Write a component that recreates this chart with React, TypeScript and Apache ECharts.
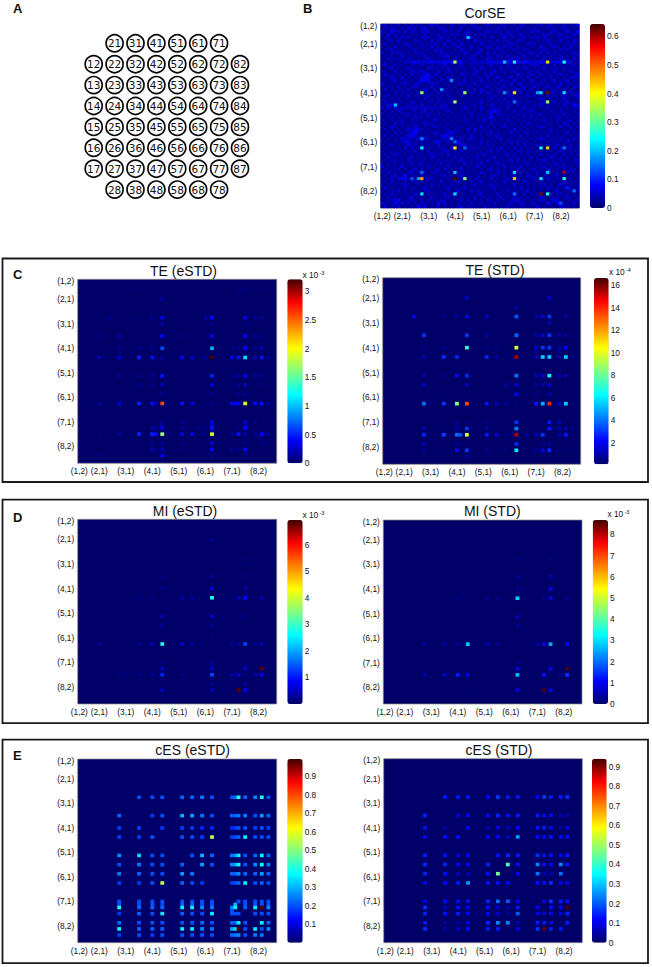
import React, { useEffect, useRef } from "react";
import * as echarts from "echarts";

const FONT = "Liberation Sans";
const JET = ["#000068", "#0000ff", "#0080ff", "#00ffff", "#80ff80", "#ffff00", "#ff8000", "#ff0000", "#400000"];

const tickCells = [0, 6, 14, 22, 30, 38, 46, 54];
const tickNames = ["(1,2)", "(2,1)", "(3,1)", "(4,1)", "(5,1)", "(6,1)", "(7,1)", "(8,2)"];

const electrodes = [
  "21 31 41 51 61 71",
  "12 22 32 42 52 62 72 82",
  "13 23 33 43 53 63 73 83",
  "14 24 34 44 54 64 74 84",
  "15 25 35 45 55 65 75 85",
  "16 26 36 46 56 66 76 86",
  "17 27 37 47 57 67 77 87",
  "28 38 48 58 68 78",
];

// CorSE background, one digit per cell in units of 0.019
const corBackground = [
  "2312131213 1221232312 1312221321 1231212312 2132112231 2312131223",
  "1223212132 3124121232 1221312123 2122131212 1321223112 2131232121",
  "3214221313 2132312123 2213123212 1231322131 2212132321 1322123214",
  "2131312212 1213121312 1322132121 2312113223 1231212123 2212311232",
  "1231223131 2123221232 2121123312 1213212312 2123122313 1212223121",
  "2122131211 3212131221 3212212132 2122131231 1322121212 3121312132",
  "1312121322 1231223213 1231312121 3212212123 2211323121 2312122231",
  "2121312131 2122131212 2123221312 1232131322 1212122132 1232121312",
  "1223121212 3112213231 2121321212 3121223121 3213211223 2121323121",
  "3112232121 2231212132 1212132123 2131312212 1221232131 3122121232",
  "1212113212 1213121223 3122121231 2122132131 2123121312 2221312122",
  "2131222132 1212321212 2131212321 1232121223 1312212123 1212322131",
  "1212121323 4333343434 3434322232 3234334343 3434433343 4334344312",
  "2312212112 2131221223 1212311212 2123122131 2212132312 2131212231",
  "1123121232 1211322121 3121221231 3212213122 1313212123 1222131212",
  "2211312123 2232121312 3212121123 1212312212 3121221312 2132121321",
  "1322121213 1223413212 1211322131 1223121212 1321232131 2212312123",
  "2123213121 2134322121 3212121212 2131232123 1221312212 1312121232",
  "1212312212 1243412131 2112131212 3121213221 3212132122 1231223121",
  "3121212321 2321232212 1212321231 2122131213 1231221231 2121312212",
  "2212131212 3212131221 2121112212 1231212312 2123123212 3123212132",
  "1312122131 2123213122 1211212131 3212123121 2322131212 1222131221",
  "2121312212 1312121312 2112121221 3132121231 2131212321 1231212312",
  "1231212131 2212312121 2121211212 1212312123 1212223121 3121231223",
  "2212131221 1213121221 1211212121 2123121312 3121211232 1212132112",
  "1312212113 2121221312 1212121212 3121222131 1221312123 2131223121",
  "2133121222 2131212123 1211221231 2113212122 1312212231 2212131243",
  "3232323232 3223232232 2121232121 3212322131 2123122121 3121212122",
  "1212132112 2123121212 3211212121 2123432121 3121232112 1221312121",
  "2121212231 2121312212 1212121312 2123132212 1213121231 2122131212",
  "1122121212 3221212121 2121221212 1324212121 2212131212 1213212121",
  "2212123112 1212123212 1212122112 2312212131 1212212123 1212212312",
  "1211312212 2123221121 2121121221 1213121212 2121321211 2212132121",
  "2123212121 3212123212 1212212121 3121212312 1212121232 1211312212",
  "1212121232 4321211212 2122113131 2212121121 3121212121 2312121221",
  "2121312123 4212123212 3421212121 2123121213 1212312212 1212123121",
  "1312121234 3121212134 2312121321 2121231212 2131212121 3212121212",
  "2121213232 2313212123 3121312321 2112123121 1212121232 1221312132",
  "1211212341 2131213421 2134212121 3121212123 1312212121 2212123121",
  "2123121232 3121221312 1212431212 2131211212 1213121312 2123121212",
  "1212121313 1212121222 1212121322 1212123121 3121212121 2131212312",
  "2121212121 3121312123 2121312121 2123121212 1231221212 1212312121",
  "1212321212 1221232121 3122121212 2312121231 2121212131 2122131212",
  "2131212123 1212132121 2131212123 1212312121 2212131212 1321212121",
  "1212312131 2122121312 1212321212 2131212123 1312121223 2121312123",
  "2121212123 1231212131 2212131212 3121231212 1212312121 2132121212",
  "3121213212 1221312121 3121212123 1212121312 2131212123 1212231212",
  "1212221212 3121212313 1212312121 2123121212 1312123121 3212121321",
  "2131212123 1212123121 2131212121 3212131212 1221212312 1212123121",
  "1212312412 2131212123 1212321212 1212321212 3121321212 2123121212",
  "2123134412 1212322121 2131212123 1213121231 2212123121 3212131212",
  "1213121212 3121212131 2123121212 3121212312 1213212131 2121223121",
  "2121212321 1212131212 1312121231 2123121212 3121212123 1212321212",
  "1312121312 2123121212 3121231212 1212312121 2131212121 3212125212",
  "2122131212 1212312121 2123121312 2121212131 2212312121 2123121212",
  "1213121221 3121212123 1212121212 3121231212 1213121221 2312312121",
  "2131212123 1212131212 3121212131 2212123121 3121212132 1212123212",
  "1222341223 2121222132 1212312121 2132121212 3412121232 1243121212",
  "3212423131 2132121423 1212121312 2121312123 1232123121 4214212131",
  "1312131212 1423121312 1212312212 1312212131 2122121312 1211322121",
];

const corPeaks: [number, number[]][] = [
  [4, [26, 0.2]],
  [12, [22, 0.35, 37, 0.2, 40, 0.25, 50, 0.43, 55, 0.25]],
  [18, [21, 0.17]],
  [21, [18, 0.17]],
  [22, [12, 0.33, 25, 0.34, 37, 0.17, 40, 0.42, 47, 0.18, 48, 0.22, 50, 0.62, 55, 0.22]],
  [25, [22, 0.35, 40, 0.15, 50, 0.33]],
  [26, [4, 0.2]],
  [37, [12, 0.16, 21, 0.16]],
  [38, [22, 0.14]],
  [40, [12, 0.23, 22, 0.42, 25, 0.14, 48, 0.24, 50, 0.44, 55, 0.15]],
  [48, [12, 0.14, 22, 0.2, 40, 0.22, 50, 0.2, 55, 0.6]],
  [50, [9, 0.13, 11, 0.18, 12, 0.46, 22, 0.63, 25, 0.33, 40, 0.44, 48, 0.22, 55, 0.27]],
  [54, [58, 0.15]],
  [55, [12, 0.22, 22, 0.22, 40, 0.15, 48, 0.62, 50, 0.27]],
  [58, [54, 0.13]],
];

const teEstd: [number, number[]][] = [
  [3, [18, 0.06, 48, 0.05, 50, 0.07, 55, 0.06]],
  [6, [25, 0.15]],
  [12, [9, 0.08, 18, 0.06, 22, 0.1, 25, 0.35, 38, 0.15, 40, 0.4, 50, 0.35, 53, 0.12, 55, 0.12]],
  [14, [25, 0.15, 40, 0.1, 50, 0.08]],
  [18, [6, 0.08, 12, 0.22, 22, 0.08, 25, 0.4, 31, 0.08, 34, 0.08, 40, 0.42, 50, 0.42, 53, 0.1, 55, 0.1]],
  [22, [12, 0.1, 18, 0.1, 22, 0.1, 25, 0.65, 40, 0.95, 46, 0.08, 48, 0.1, 50, 0.4, 53, 0.12, 55, 0.2]],
  [25, [6, 0.2, 12, 0.3, 18, 0.5, 22, 0.45, 25, 0.12, 31, 0.4, 34, 0.25, 38, 0.15, 40, 3.2, 46, 0.35, 48, 0.45, 50, 1.1, 53, 0.2, 55, 0.45, 57, 0.12]],
  [31, [12, 0.1, 18, 0.1, 22, 0.12, 25, 0.45, 40, 0.5, 46, 0.1, 48, 0.15, 50, 0.4, 53, 0.1, 55, 0.12]],
  [34, [18, 0.08, 22, 0.08, 25, 0.2, 40, 0.3, 46, 0.06, 48, 0.1, 50, 0.2, 55, 0.08]],
  [37, [25, 0.1, 40, 0.1, 48, 0.08, 50, 0.1]],
  [40, [4, 0.05, 6, 0.15, 12, 0.3, 18, 0.5, 22, 0.45, 23, 0.2, 25, 2.6, 31, 0.45, 34, 0.3, 38, 0.05, 40, 0.1, 46, 0.35, 47, 0.35, 48, 0.4, 50, 1.9, 53, 0.4, 55, 0.45, 57, 0.12]],
  [46, [25, 0.1, 31, 0.1, 40, 0.3, 50, 0.25, 53, 0.1]],
  [47, [25, 0.15, 40, 0.3, 50, 0.2]],
  [48, [22, 0.15, 23, 0.15, 25, 0.3, 31, 0.1, 36, 0.08, 38, 0.08, 40, 0.45, 48, 0.1, 50, 0.4]],
  [49, [40, 0.2]],
  [50, [1, 0.05, 6, 0.05, 12, 0.15, 18, 0.5, 22, 0.5, 23, 0.45, 25, 1.7, 31, 0.35, 34, 0.35, 38, 0.08, 40, 1.9, 46, 0.12, 48, 0.45, 50, 0.15, 53, 0.12, 55, 0.4, 56, 0.1, 57, 0.1]],
  [53, [22, 0.1, 25, 0.12, 31, 0.08, 40, 0.3, 46, 0.05, 50, 0.08, 55, 0.08, 56, 0.08]],
  [55, [22, 0.2, 23, 0.1, 25, 0.2, 31, 0.08, 40, 0.4, 46, 0.12, 48, 0.1, 50, 0.4]],
  [57, [6, 0.07, 25, 0.35, 40, 0.12, 50, 0.1]],
];

const teStd: [number, number[]][] = [
  [6, [25, 1.5, 50, 1.5]],
  [9, [40, 0.8]],
  [12, [9, 1.8, 18, 0.6, 22, 0.8, 25, 2, 31, 1.5, 40, 3.5, 46, 0.8, 48, 1.5, 50, 3, 55, 0.8]],
  [14, [50, 1]],
  [18, [12, 3, 25, 3, 31, 1, 40, 3.8, 46, 0.8, 48, 1.5, 50, 3, 53, 0.6, 55, 0.8]],
  [22, [12, 0.5, 18, 0.5, 25, 7, 31, 0.5, 34, 0.5, 40, 9.8, 46, 1.5, 48, 3, 50, 3, 53, 0.7, 55, 2]],
  [23, [46, 1, 53, 0.8]],
  [25, [10, 0.3, 12, 1, 18, 2.8, 22, 2.8, 31, 2.8, 34, 0.8, 37, 0.3, 40, 15.5, 46, 1, 48, 5.5, 50, 5.5, 53, 1, 55, 5.5, 57, 0.5]],
  [31, [12, 1, 18, 0.6, 22, 2, 25, 2.8, 34, 0.3, 40, 4, 46, 1, 48, 1.5, 50, 6.5, 53, 1, 55, 1.2]],
  [34, [12, 1.3, 25, 1.2, 37, 0.8, 40, 1.5, 46, 0.6, 48, 1, 50, 1.5]],
  [37, [18, 0.4, 40, 2.2, 46, 0.5, 50, 1]],
  [40, [12, 4, 14, 0.5, 18, 3, 22, 8.5, 25, 13.5, 31, 2.5, 34, 1, 37, 0.8, 43, 0.4, 46, 2.5, 48, 5, 50, 14, 53, 1.5, 55, 5.5]],
  [41, [40, 0.3]],
  [46, [22, 0.4, 25, 0.4, 31, 0.5, 34, 0.3, 40, 3, 50, 2.5, 53, 1.2]],
  [47, [22, 0.5]],
  [48, [12, 1, 18, 0.3, 22, 0.8, 25, 3, 31, 0.8, 40, 4.2, 46, 0.3, 50, 2.5, 53, 1, 55, 1.2, 57, 0.5]],
  [50, [12, 2.8, 18, 3.2, 22, 4, 23, 3.5, 25, 9.8, 31, 2.5, 34, 1.5, 37, 0.5, 40, 15.5, 43, 0.8, 46, 1.2, 48, 3, 53, 0.8, 55, 2.5]],
  [53, [12, 1, 22, 0.8, 25, 0.3, 40, 2.8, 48, 0.5, 50, 0.8]],
  [55, [12, 0.8, 18, 0.3, 22, 2, 25, 3, 31, 0.6, 37, 0.5, 40, 6, 46, 0.8, 48, 1.8, 50, 2.8, 53, 0.4, 57, 0.4]],
  [57, [25, 0.6]],
];

const miEstd: [number, number[]][] = [
  [6, [40, 0.25]],
  [12, [40, 0.1, 50, 0.15]],
  [14, [50, 0.15]],
  [18, [25, 0.15, 40, 0.25, 50, 0.2]],
  [22, [25, 0.15, 40, 0.6, 46, 0.08, 50, 0.3]],
  [25, [18, 0.15, 22, 0.15, 31, 0.35, 34, 0.3, 40, 2.8, 46, 0.12, 48, 0.4, 50, 0.9, 55, 0.4]],
  [31, [25, 0.4, 40, 0.6, 49, 0.15, 50, 0.1]],
  [34, [25, 0.3, 40, 0.3]],
  [37, [40, 0.1]],
  [40, [6, 0.3, 12, 0.1, 18, 0.2, 22, 0.5, 25, 2.7, 31, 0.6, 34, 0.3, 37, 0.12, 46, 0.2, 48, 0.3, 50, 1.3, 53, 0.3, 55, 0.4]],
  [46, [22, 0.12, 25, 0.12, 40, 0.25]],
  [47, [40, 0.2, 50, 0.2]],
  [48, [25, 0.5, 31, 0.1, 40, 0.5, 50, 0.5, 55, 6.8]],
  [50, [12, 0.15, 14, 0.12, 18, 0.2, 22, 0.3, 25, 1.1, 31, 0.2, 40, 1.3, 46, 0.4, 48, 0.6, 50, 0.2, 53, 0.4, 55, 0.8]],
  [53, [40, 0.2, 50, 0.3]],
  [55, [25, 0.5, 40, 0.5, 48, 6.8, 50, 0.8]],
  [57, [25, 0.12]],
];

const miStd: [number, number[]][] = [
  [12, [40, 0.2, 50, 0.2]],
  [18, [40, 0.4, 50, 0.6]],
  [22, [25, 0.1, 40, 0.3, 50, 1]],
  [25, [22, 0.2, 31, 0.2, 34, 0.15, 40, 2.9, 48, 0.2, 50, 0.8, 55, 0.2]],
  [31, [25, 0.1, 40, 0.6]],
  [34, [25, 0.08, 40, 0.3]],
  [40, [12, 0.4, 18, 0.4, 22, 0.3, 25, 2.8, 31, 0.5, 34, 0.3, 46, 0.4, 48, 1, 50, 2.5, 55, 1]],
  [46, [40, 0.25]],
  [48, [40, 1, 50, 1, 55, 8.6]],
  [50, [12, 0.5, 18, 0.7, 22, 1.3, 25, 1, 40, 2.7, 48, 1.2, 53, 0.3, 55, 1.5]],
  [55, [25, 0.15, 40, 1, 48, 8.6, 50, 1]],
];

const cesEstd: [number, number[]][] = [
  [12, [18, 0.2, 22, 0.2, 25, 0.2, 31, 0.22, 34, 0.22, 37, 0.24, 40, 0.2, 46, 0.2, 47, 0.22, 48, 0.4, 50, 0.22, 53, 0.25, 55, 0.4, 57, 0.2]],
  [18, [12, 0.22, 22, 0.18, 25, 0.2, 31, 0.3, 34, 0.28, 37, 0.24, 40, 0.2, 46, 0.22, 47, 0.22, 48, 0.24, 50, 0.24, 53, 0.2, 55, 0.27, 57, 0.22]],
  [22, [12, 0.18, 18, 0.18, 25, 0.18, 31, 0.18, 34, 0.18, 37, 0.16, 40, 0.16, 46, 0.16, 47, 0.18, 48, 0.2, 50, 0.2, 53, 0.18, 55, 0.2, 57, 0.18]],
  [25, [12, 0.18, 18, 0.18, 22, 0.2, 31, 0.2, 34, 0.2, 37, 0.18, 40, 0.55, 46, 0.18, 47, 0.2, 48, 0.22, 50, 0.36, 53, 0.2, 55, 0.2, 57, 0.2]],
  [31, [12, 0.26, 18, 0.34, 22, 0.2, 25, 0.2, 34, 0.2, 37, 0.3, 40, 0.22, 46, 0.24, 47, 0.26, 48, 0.36, 50, 0.2, 53, 0.22, 55, 0.36, 57, 0.22]],
  [34, [12, 0.2, 18, 0.24, 22, 0.2, 25, 0.2, 31, 0.22, 37, 0.28, 40, 0.2, 46, 0.26, 47, 0.28, 48, 0.38, 50, 0.2, 53, 0.25, 55, 0.38, 57, 0.24]],
  [37, [12, 0.25, 18, 0.22, 22, 0.2, 25, 0.2, 31, 0.28, 34, 0.24, 46, 0.22, 47, 0.22, 48, 0.26, 50, 0.22, 53, 0.22, 55, 0.28, 57, 0.22]],
  [40, [12, 0.18, 18, 0.18, 22, 0.2, 25, 0.55, 31, 0.22, 34, 0.2, 37, 0.18, 46, 0.18, 47, 0.2, 48, 0.22, 50, 0.36, 53, 0.2, 55, 0.22, 57, 0.2]],
  [46, [12, 0.2, 18, 0.2, 22, 0.2, 25, 0.2, 31, 0.2, 34, 0.2, 37, 0.2, 40, 0.2, 48, 0.2, 50, 0.2, 53, 0.2, 55, 0.2, 57, 0.2]],
  [47, [12, 0.2, 18, 0.2, 22, 0.2, 25, 0.2, 31, 0.22, 34, 0.22, 37, 0.2, 40, 0.2, 47, 0.3, 50, 0.2, 53, 0.2, 55, 0.2, 57, 0.2]],
  [48, [12, 0.4, 18, 0.22, 22, 0.22, 25, 0.22, 31, 0.36, 34, 0.36, 37, 0.26, 40, 0.24, 46, 0.25, 47, 0.36, 50, 0.22, 53, 0.36, 55, 0.98, 57, 0.26]],
  [49, [46, 0.2]],
  [50, [12, 0.18, 18, 0.22, 22, 0.2, 25, 0.36, 31, 0.22, 34, 0.2, 37, 0.2, 40, 0.36, 46, 0.2, 47, 0.2, 48, 0.2, 53, 0.2, 55, 0.2, 57, 0.2]],
  [53, [12, 0.22, 18, 0.2, 22, 0.2, 25, 0.2, 31, 0.2, 34, 0.2, 37, 0.22, 40, 0.2, 46, 0.22, 47, 0.22, 48, 0.36, 50, 0.2, 55, 0.36, 57, 0.22]],
  [55, [12, 0.38, 18, 0.22, 22, 0.22, 25, 0.22, 31, 0.36, 34, 0.36, 37, 0.26, 40, 0.24, 46, 0.28, 47, 0.34, 48, 0.98, 50, 0.2, 53, 0.36, 55, 0.2, 57, 0.26]],
  [57, [12, 0.18, 18, 0.2, 22, 0.18, 25, 0.2, 31, 0.2, 34, 0.2, 37, 0.2, 40, 0.2, 46, 0.22, 47, 0.24, 48, 0.26, 50, 0.2, 53, 0.24, 55, 0.24]],
];

const cesStd: [number, number[]][] = [
  [12, [18, 0.14, 22, 0.14, 25, 0.14, 31, 0.12, 34, 0.17, 37, 0.14, 40, 0.14, 46, 0.12, 48, 0.17, 50, 0.14, 53, 0.14, 55, 0.16]],
  [18, [12, 0.15, 22, 0.08, 25, 0.12, 31, 0.12, 34, 0.15, 37, 0.13, 40, 0.14, 46, 0.14, 48, 0.12, 50, 0.12, 53, 0.05, 55, 0.06]],
  [22, [12, 0.13, 18, 0.05, 25, 0.12, 31, 0.05, 34, 0.1, 37, 0.07, 40, 0.12, 46, 0.13, 48, 0.14, 50, 0.12, 53, 0.04, 55, 0.1]],
  [25, [12, 0.12, 18, 0.13, 22, 0.13, 31, 0.12, 34, 0.12, 37, 0.07, 40, 0.26, 46, 0.12, 48, 0.12, 50, 0.13, 53, 0.12, 55, 0.13]],
  [31, [12, 0.14, 18, 0.13, 22, 0.08, 25, 0.12, 34, 0.13, 37, 0.15, 40, 0.14, 46, 0.16, 48, 0.13, 50, 0.13, 53, 0.12, 55, 0.14]],
  [34, [12, 0.16, 18, 0.15, 22, 0.12, 25, 0.12, 31, 0.15, 37, 0.42, 40, 0.13, 46, 0.24, 48, 0.13, 50, 0.12, 53, 0.24, 55, 0.14]],
  [37, [12, 0.15, 18, 0.13, 22, 0.07, 25, 0.06, 31, 0.13, 34, 0.46, 40, 0.12, 46, 0.22, 48, 0.05, 50, 0.05, 53, 0.22]],
  [40, [12, 0.11, 18, 0.12, 22, 0.14, 25, 0.26, 31, 0.13, 34, 0.13, 37, 0.12, 46, 0.13, 48, 0.13, 50, 0.16, 53, 0.1, 55, 0.1]],
  [46, [12, 0.1, 18, 0.13, 22, 0.13, 25, 0.13, 31, 0.15, 34, 0.22, 37, 0.2, 40, 0.12, 48, 0.1, 50, 0.16, 53, 0.14, 55, 0.13]],
  [48, [12, 0.16, 18, 0.07, 22, 0.13, 25, 0.12, 31, 0.13, 34, 0.08, 37, 0.05, 40, 0.14, 46, 0.1, 50, 0.13, 53, 0.12, 55, 0.93]],
  [50, [12, 0.15, 18, 0.13, 22, 0.14, 25, 0.12, 31, 0.12, 34, 0.07, 37, 0.04, 40, 0.2, 46, 0.1, 48, 0.1, 50, 0.1, 53, 0.1, 55, 0.15]],
  [53, [12, 0.14, 18, 0.04, 22, 0.04, 25, 0.1, 31, 0.15, 34, 0.24, 37, 0.24, 40, 0.06, 46, 0.14, 48, 0.14, 50, 0.1, 55, 0.14]],
  [55, [12, 0.16, 18, 0.04, 22, 0.07, 25, 0.13, 31, 0.14, 34, 0.14, 40, 0.1, 46, 0.16, 48, 0.92, 50, 0.14, 53, 0.14]],
];

const corTicks = [0, 0.1, 0.2, 0.3, 0.4, 0.5, 0.6];
const teEstdTicks = [0, 0.5, 1, 1.5, 2, 2.5, 3];
const teStdTicks = [2, 4, 6, 8, 10, 12, 14, 16];
const miEstdTicks = [1, 2, 3, 4, 5, 6];
const miStdTicks = [0, 1, 2, 3, 4, 5, 6, 7, 8];
const cesEstdTicks = [0.1, 0.2, 0.3, 0.4, 0.5, 0.6, 0.7, 0.8, 0.9];
const cesStdTicks = [0, 0.1, 0.2, 0.3, 0.4, 0.5, 0.6, 0.7, 0.8, 0.9];

function sparse(rows: [number, number[]][]) {
  const out: number[][] = [];
  for (const [row, pairs] of rows) {
    for (let i = 0; i < pairs.length; i += 2) out.push([pairs[i], row, pairs[i + 1]]);
  }
  return out;
}

function corData() {
  const peaks = new Map<string, number>();
  for (const [c, r, v] of sparse(corPeaks)) peaks.set(c + "_" + r, v);
  const out: number[][] = [];
  corBackground.forEach((line, r) => {
    line.replace(/ /g, "").split("").forEach((d, c) => {
      const v = peaks.get(c + "_" + r);
      out.push([c, r, v !== undefined ? v : Number(d) * 0.019]);
    });
  });
  return out;
}

const categories = Array.from({ length: 60 }, (_, i) => {
  const k = tickCells.indexOf(i);
  return k >= 0 ? tickNames[k] : "";
});

const panels = [
  { title: "CorSE", cx: 485, ty: 13, g: [380.7, 24, 198.6, 184], b: [590, 24, 15, 184], min: 0, max: 0.643, ticks: corTicks, exp: "", ex: 0, ey: 0, data: corData() },
  { title: "TE (eSTD)", cx: 183.5, ty: 270.5, g: [77.7, 279.3, 199, 184], b: [287.3, 279.3, 15.4, 184], min: 0, max: 3.21, ticks: teEstdTicks, exp: "-3", ex: 302.5, ey: 274.5, data: sparse(teEstd) },
  { title: "TE (STD)", cx: 495, ty: 269.5, g: [382.7, 277.7, 198, 186.6], b: [594, 278, 14.7, 186.3], min: 0.08, max: 16.65, ticks: teStdTicks, exp: "-4", ex: 609, ey: 272, data: sparse(teStd) },
  { title: "MI (eSTD)", cx: 185, ty: 510.5, g: [77.7, 519.3, 199, 184.7], b: [287.3, 520, 15.4, 184], min: 0, max: 6.93, ticks: miEstdTicks, exp: "-3", ex: 302.5, ey: 514.5, data: sparse(miEstd) },
  { title: "MI (STD)", cx: 492.3, ty: 510.5, g: [383.3, 520, 198.7, 184], b: [592.7, 520, 15.3, 184], min: 0, max: 8.68, ticks: miStdTicks, exp: "-3", ex: 607.5, ey: 514, data: sparse(miStd) },
  { title: "cES (eSTD)", cx: 192.7, ty: 750, g: [77.7, 759, 199, 183.7], b: [287.3, 759, 15.4, 183.7], min: 0, max: 0.992, ticks: cesEstdTicks, exp: "", ex: 0, ey: 0, data: sparse(cesEstd) },
  { title: "cES (STD)", cx: 499, ty: 750, g: [383.7, 758.7, 198.6, 184], b: [592, 758.7, 14.7, 184], min: 0, max: 0.94, ticks: cesStdTicks, exp: "", ex: 0, ey: 0, data: sparse(cesStd) },
];

const panelLetters: [string, number, number][] = [
  ["A", 13, 8], ["B", 303, 8], ["C", 13, 274.5], ["D", 13, 517], ["E", 13, 755.5],
];
const panelBoxes = [
  [2.5, 258.5, 645.5, 223.5],
  [2.5, 499.7, 645.5, 223.5],
  [2.5, 739.7, 645.5, 223.5],
];

function buildOption() {
  const grid: any[] = [];
  const xAxis: any[] = [];
  const yAxis: any[] = [];
  const series: any[] = [];
  const visualMap: any[] = [];
  const title: any[] = [];
  const graphic: any[] = [];

  // Panel A: the electrode layout
  grid.push({ left: 72.8, top: 22.4, width: 188.1, height: 188.1 });
  xAxis.push({ type: "value", gridIndex: 0, min: 0, max: 9, show: false });
  yAxis.push({ type: "value", gridIndex: 0, min: 0, max: 9, inverse: true, show: false });
  const dots: any[] = [];
  electrodes.forEach((line) => line.split(" ").forEach((e) => dots.push([Number(e[0]), Number(e[1]), e])));
  series.push({
    type: "scatter", xAxisIndex: 0, yAxisIndex: 0, data: dots, symbol: "circle", symbolSize: 17,
    itemStyle: { color: "#fff", borderColor: "#0a0a0a", borderWidth: 1.7, opacity: 1 },
    label: { show: true, position: "inside", formatter: (p: any) => p.value[2], fontFamily: "DejaVu Sans", fontSize: 10.5, color: "#111" },
    silent: true,
  });

  const n = panels.length;
  panels.forEach((p, i) => {
    const gi = i + 1;
    grid.push({ left: p.g[0], top: p.g[1], width: p.g[2], height: p.g[3], show: true, backgroundColor: JET[0], borderWidth: 0.7, borderColor: "#8a8a8a" });
    const common = { type: "category", gridIndex: gi, data: categories, axisLine: { show: false }, axisTick: { show: false }, splitLine: { show: false } };
    xAxis.push({ ...common, position: "bottom", axisLabel: { interval: 0, margin: 4, fontFamily: FONT, fontSize: 8.3, color: "#111" } });
    yAxis.push({ ...common, inverse: true, position: "left", axisLabel: { interval: 0, margin: 3.5, fontFamily: FONT, fontSize: 8.3, color: "#111" } });
    series.push({ type: "heatmap", xAxisIndex: gi, yAxisIndex: gi, data: p.data, silent: true, progressive: 0, itemStyle: { borderWidth: 0 } });
    visualMap.push({
      type: "continuous", seriesIndex: i + 1, dimension: 2, min: p.min, max: p.max, calculable: false, show: true,
      left: p.b[0], top: p.b[1], itemWidth: p.b[2], itemHeight: p.b[3], padding: 0, text: null, hoverLink: false,
      inRange: { color: JET },
    });
    title.push({
      text: p.title, left: p.cx, top: p.ty, textAlign: "center", textVerticalAlign: "middle", padding: 0,
      textStyle: { fontFamily: FONT, fontSize: 14, fontWeight: "normal", color: "#111" },
    });
    if (p.exp) {
      graphic.push({ type: "text", x: p.ex, y: p.ey, style: { text: "x 10", font: `8.3px "${FONT}"`, fill: "#111", textVerticalAlign: "middle" } });
      graphic.push({ type: "text", x: p.ex + 17, y: p.ey - 2, style: { text: p.exp, font: `5.5px "${FONT}"`, fill: "#111", textVerticalAlign: "middle" } });
    }
  });
  panels.forEach((p, i) => {
    const gi = n + 1 + i;
    grid.push({ left: p.b[0], top: p.b[1], width: p.b[2], height: p.b[3] });
    xAxis.push({ type: "value", gridIndex: gi, min: 0, max: 1, show: false });
    yAxis.push({
      type: "value", gridIndex: gi, min: p.min, max: p.max, position: "right",
      axisLine: { show: false }, axisTick: { show: false }, splitLine: { show: false },
      axisLabel: { customValues: p.ticks, formatter: (v: number) => String(v), margin: 2, fontFamily: FONT, fontSize: 8.3, color: "#111" },
    });
    series.push({ type: "scatter", xAxisIndex: gi, yAxisIndex: gi, data: [], silent: true });
  });

  panelBoxes.forEach(([x, y, w, h]) => {
    graphic.push({ type: "rect", shape: { x, y, width: w, height: h }, style: { fill: "none", stroke: "#1a1a1a", lineWidth: 1.8 }, silent: true, z: 10 });
  });
  panelLetters.forEach(([t, x, y]) => {
    graphic.push({ type: "text", x, y, style: { text: t, font: `bold 13px "${FONT}"`, fill: "#111", textVerticalAlign: "middle" } });
  });

  return { animation: false, backgroundColor: "#fff", grid, xAxis, yAxis, series, visualMap, title, graphic, tooltip: { show: false } };
}

export default function App() {
  const ref = useRef<HTMLDivElement>(null);
  useEffect(() => {
    if (!ref.current) return;
    const chart = echarts.init(ref.current, undefined, { renderer: "svg" });
    chart.setOption(buildOption() as any);
    return () => chart.dispose();
  }, []);
  return <div ref={ref} style={{ position: "absolute", left: 0, top: 0, width: 652, height: 967 }} />;
}
